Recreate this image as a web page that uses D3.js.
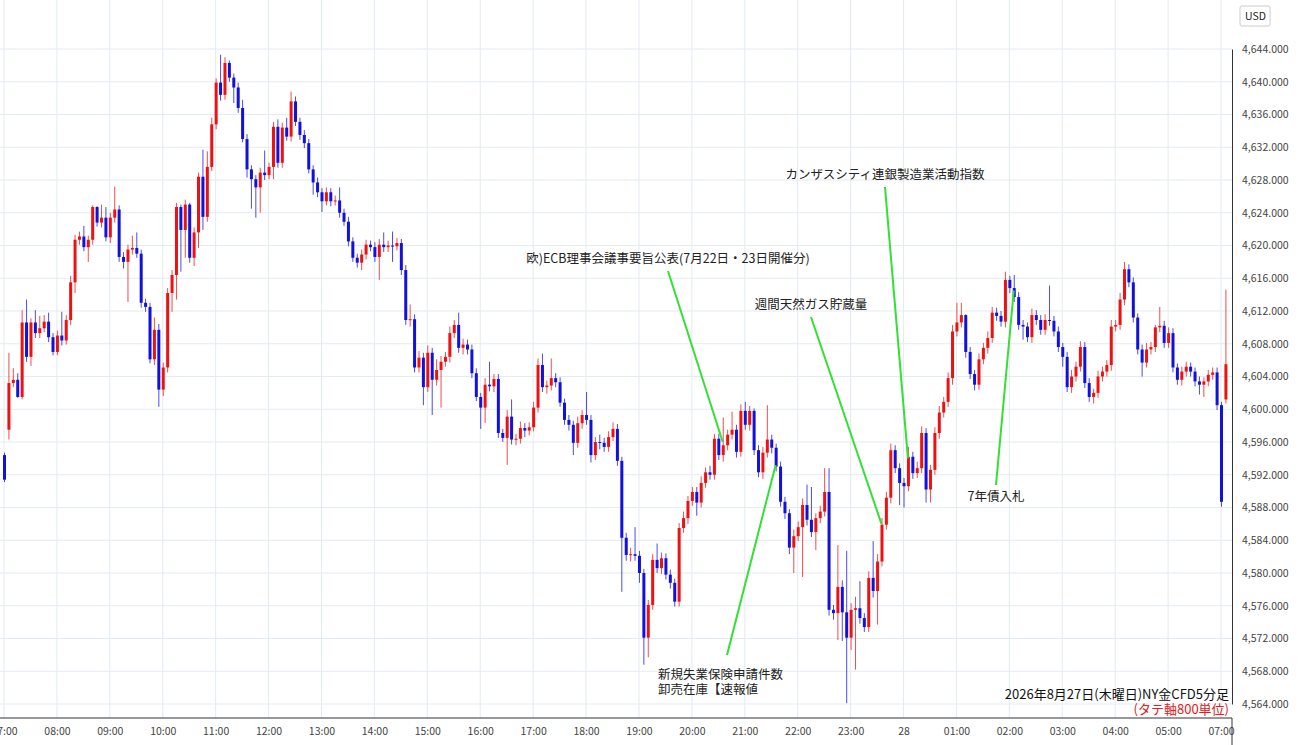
<!DOCTYPE html>
<html><head><meta charset="utf-8">
<script src="https://cdn.jsdelivr.net/npm/d3@7"></script>
<style>
body{margin:0;background:#fff;font-family:"Noto Sans CJK JP","Noto Sans",sans-serif;}
svg text{font-family:"Noto Sans CJK JP","Noto Sans",sans-serif;}
</style></head>
<body><svg id="chart" width="1300" height="745"></svg>
<script>
// closes of 5-minute candles, 07:00 .. 05:55, then 07:00, 07:05
const closes = [
4591.4,4603.2,4603.6,4601.5,4610.6,4606.4,4610.6,4609.3,4609.9,4610.7,
4608.8,4607.0,4609.0,4608.4,4610.9,4615.5,4620.7,4621.1,4619.8,4620.7,
4624.7,4622.8,4623.4,4621.0,4623.4,4624.4,4618.6,4618.0,4619.5,4619.7,
4619.0,4613.0,4612.5,4606.1,4609.7,4602.4,4605.1,4614.2,4616.4,4624.7,
4621.9,4625.0,4618.5,4621.6,4628.4,4623.5,4629.6,4634.8,4639.9,4638.4,
4642.3,4640.5,4639.3,4636.8,4633.0,4629.3,4628.1,4627.1,4628.9,4628.6,
4629.6,4634.5,4630.1,4634.4,4633.3,4637.6,4635.1,4633.5,4632.5,4629.3,
4627.7,4626.5,4625.4,4626.5,4625.4,4625.5,4624.0,4622.9,4620.5,4618.5,
4617.9,4618.9,4620.1,4619.8,4618.6,4620.1,4619.8,4620.0,4619.9,4620.3,
4617.0,4610.9,4611.0,4605.1,4606.3,4602.7,4606.9,4603.6,4604.8,4605.8,
4606.4,4609.3,4610.3,4607.5,4607.9,4607.3,4604.4,4601.5,4600.2,4603.0,
4602.8,4603.7,4597.1,4596.5,4599.1,4596.3,4596.4,4597.7,4597.4,4597.8,
4600.2,4605.4,4602.7,4602.9,4603.8,4603.3,4600.8,4598.7,4598.1,4595.9,
4598.3,4599.3,4598.7,4594.4,4596.0,4595.9,4595.4,4596.6,4597.6,4593.7,
4584.3,4582.2,4582.3,4582.1,4580.0,4572.1,4576.1,4581.6,4580.6,4581.8,
4579.8,4578.8,4576.5,4585.5,4586.7,4588.8,4589.9,4588.6,4591.0,4592.3,
4592.0,4596.4,4594.4,4595.6,4596.9,4597.5,4594.8,4599.8,4598.1,4599.8,
4595.0,4592.3,4594.7,4596.3,4595.3,4593.0,4588.7,4587.3,4583.1,4584.5,
4585.6,4588.3,4586.5,4585.0,4586.7,4587.5,4589.9,4575.5,4575.1,4578.3,
4575.2,4572.1,4575.5,4575.7,4574.5,4573.4,4579.4,4577.8,4581.4,4585.9,
4589.2,4595.0,4592.8,4591.0,4590.6,4594.2,4592.2,4592.8,4597.1,4590.2,
4592.6,4597.1,4599.6,4600.9,4603.8,4609.5,4610.6,4611.5,4607.0,4604.3,
4603.0,4606.1,4607.5,4608.7,4611.8,4611.4,4610.7,4615.8,4614.8,4613.7,
4610.3,4610.1,4608.8,4611.5,4610.9,4609.7,4610.9,4610.8,4609.5,4607.6,
4606.4,4602.7,4604.0,4605.2,4607.6,4603.2,4601.5,4602.0,4604.0,4604.6,
4605.4,4610.1,4610.3,4613.4,4617.1,4615.5,4611.2,4607.3,4605.7,4607.3,
4607.6,4610.0,4610.2,4608.1,4609.3,4605.1,4603.6,4604.6,4605.2,4604.6,
4603.4,4603.0,4603.4,4604.2,4604.5,4600.5,4588.7,4605.5
];
// opens differ from previous close only at gaps
const gapOpens = {0: 4594.4, 1: 4597.5, 277: 4601.2};
// wick lengths above / below the body
const upperWick = [
0.3,3.7,1.4,0.8,1.5,2.8,0.5,1.5,1.5,0.8, 1.1,0.5,0.6,2.9,0.6,0.8,0.6,0.6,1.3,0.5,
0.2,0.1,1.6,1.3,0.6,2.8,0.5,0.6,0.6,1.5, 1.9,0.5,0.5,0.5,1.5,0.7,0.6,0.6,0.6,0.5,
0.3,0.6,0.2,0.6,0.5,3.3,1.9,0.8,0.5,3.4, 0.7,0.3,0.5,0.6,1.0,0.6,0.5,0.5,0.6,2.7,
0.5,0.6,0.9,0.6,1.2,1.2,0.6,0.5,0.6,0.5, 0.5,0.6,0.5,0.6,0.5,0.6,1.6,0.5,0.6,0.5,
0.5,0.6,0.6,0.5,0.6,0.7,1.5,0.6,1.7,0.6, 0.5,0.6,1.8,0.6,0.8,0.6,0.9,0.6,1.3,0.7,
0.6,0.8,0.6,1.5,0.7,0.6,0.6,0.6,0.5,0.8, 2.8,0.6,0.6,0.5,0.8,2.1,0.6,0.8,0.6,0.6,
0.7,0.8,1.4,0.6,2.4,0.6,0.6,0.5,0.6,0.5, 0.8,0.6,2.8,0.6,0.6,0.9,0.6,0.7,0.8,0.6,
0.5,0.6,0.8,3.3,0.6,0.5,0.6,0.7,2.0,0.7, 0.6,0.6,0.5,0.6,0.8,0.6,0.6,0.6,0.8,0.6,
0.8,0.6,0.6,3.4,0.6,2.2,0.6,0.8,1.1,0.6, 0.3,0.6,0.7,4.2,0.6,0.5,0.6,0.6,0.5,0.8,
0.7,0.8,2.5,4.0,0.6,0.7,2.9,2.9,0.6,5.1, 0.8,7.5,0.8,1.4,3.3,0.6,0.8,4.5,0.9,0.8,
0.7,0.8,0.6,0.6,0.6,1.2,0.6,0.8,0.8,0.6, 0.6,0.7,0.8,0.6,0.7,0.8,2.4,1.5,0.1,0.6,
0.5,0.7,0.6,0.8,0.7,0.6,0.6,1.0,0.5,1.6, 0.6,0.6,0.5,0.8,0.6,0.6,0.7,4.2,0.6,0.6,
0.5,0.6,0.8,0.6,0.7,0.6,0.6,0.5,0.7,0.6, 0.6,0.8,0.6,0.8,0.9,0.6,0.6,0.5,0.6,0.8,
0.6,0.3,2.3,0.6,0.7,0.6,0.5,0.6,0.6,0.5, 0.5,0.6,0.5,0.6,0.6,0.6,0.4,9.1
];
const lowerWick = [
0.3,1.2,0.5,0.1,0.3,0.6,1.1,0.6,0.6,0.5, 0.6,0.4,0.4,0.6,0.5,0.6,1.3,0.6,0.5,1.8,
0.6,0.5,0.6,0.5,0.7,0.6,0.6,0.8,4.9,0.6, 0.5,0.6,0.6,0.5,0.7,2.1,0.8,0.6,2.3,3.0,
5.1,3.4,0.6,1.0,1.9,1.6,0.6,0.5,0.6,0.7, 0.6,0.5,1.9,0.6,0.4,1.0,3.6,3.7,3.1,0.6,
0.5,1.5,0.6,0.6,0.5,0.6,0.5,0.6,0.6,0.5, 1.5,0.6,1.3,0.5,0.6,0.5,0.6,0.5,0.6,0.5,
0.6,0.9,0.6,0.5,0.6,2.8,0.6,0.6,1.9,0.5, 0.6,0.6,0.8,0.6,0.6,2.2,0.6,4.3,0.7,4.6,
0.6,0.7,0.6,0.6,0.8,0.6,0.6,0.5,2.6,1.9, 0.6,0.7,0.6,0.5,3.3,0.6,0.7,0.6,0.8,0.6,
0.5,0.6,0.6,0.8,0.6,0.6,0.5,0.6,0.7,1.5, 0.6,0.7,0.6,0.9,0.6,0.8,0.6,0.6,0.5,0.6,
6.6,0.7,0.8,0.6,1.2,3.3,2.4,0.6,0.6,0.7, 0.6,0.7,0.6,0.6,0.6,0.7,0.6,1.6,0.6,0.6,
0.6,0.6,0.6,0.8,0.6,0.6,0.7,0.6,0.6,0.7, 0.6,0.6,0.8,0.6,0.7,0.6,0.6,0.7,0.8,3.1,
0.6,6.1,0.7,0.6,2.2,0.6,0.6,0.7,0.8,3.3, 3.5,8.0,1.5,7.3,0.7,0.6,0.6,0.8,4.1,0.6,
0.6,0.7,0.6,2.7,2.6,0.6,0.7,0.6,0.6,1.6, 1.6,0.6,0.7,0.6,0.6,0.8,0.6,0.6,0.7,0.6,
0.7,0.6,0.6,0.7,0.6,0.6,0.6,0.7,0.6,0.6, 0.6,1.6,0.6,0.7,0.6,0.6,0.6,0.6,0.6,0.6,
1.2,0.6,0.7,0.6,0.6,0.6,0.6,0.8,0.6,0.6, 0.6,0.7,0.6,0.6,0.7,0.6,0.6,0.6,1.7,0.6,
0.6,0.6,0.6,0.6,0.6,0.6,0.6,0.7,0.6,0.6, 0.6,1.2,1.5,0.6,0.6,0.6,0.6,0.5
];
const xTickIdx = [0,12,24,36,48,60,72,84,96,108,120,132,144,156,168,180,192,204,216,228,240,252,264,276];
const xTickLabels = ["07:00","08:00","09:00","10:00","11:00","12:00","13:00","14:00","15:00","16:00","17:00","18:00","19:00","20:00","21:00","22:00","23:00","28","01:00","02:00","03:00","04:00","05:00","07:00"];
const yTicks = d3.range(4564, 4645, 4);
const events = [
  {lines:["欧)ECB理事会議事要旨公表(7月22日・23日開催分)"], idx:163, price:4596.0, tx:668, ty:263, anchor:"middle"},
  {lines:["カンザスシティ連銀製造業活動指数"], idx:205, price:4594.0, tx:885, ty:179, anchor:"middle"},
  {lines:["週間天然ガス貯蔵量"], idx:199, price:4586.0, tx:811, ty:309, anchor:"middle"},
  {lines:["新規失業保険申請件数","卸売在庫【速報値"], idx:175, price:4593.2, tx:658, ty:679, anchor:"start", lx:727, ly:655},
  {lines:["7年債入札"], idx:229, price:4614.5, tx:996, ty:501, anchor:"middle"}
];

const candles = closes.map((c, i) => {
  const o = gapOpens[i] !== undefined ? gapOpens[i] : closes[i - 1];
  return {i, o, c, h: Math.max(o, c) + upperWick[i], l: Math.min(o, c) - lowerWick[i]};
});

const svg = d3.select('#chart');
const plotRight = 1232, plotBottom = 718;
const x = d3.scaleLinear().domain([0, 276]).range([4, 1221]);
const y = d3.scaleLinear().domain([4564, 4644]).range([704, 49]);

const grid = svg.append('g');
grid.selectAll('line.h').data(yTicks).join('line')
  .attr('x1', 0).attr('x2', plotRight).attr('y1', d => y(d)).attr('y2', d => y(d))
  .attr('stroke', '#e3ebf3');
grid.selectAll('line.v').data(xTickIdx).join('line')
  .attr('x1', d => x(d)).attr('x2', d => x(d)).attr('y1', 0).attr('y2', plotBottom)
  .attr('stroke', '#e3ebf3');

const up = '#ee1111', down = '#1111dd';
const g = svg.append('g');
g.selectAll('line.wick').data(candles).join('line')
  .attr('x1', d => x(d.i) + 0.5).attr('x2', d => x(d.i) + 0.5)
  .attr('y1', d => y(d.h)).attr('y2', d => y(d.l))
  .attr('stroke', d => d.c >= d.o ? up : down).attr('stroke-opacity', 0.75).attr('stroke-width', 1);
g.selectAll('rect').data(candles).join('rect')
  .attr('x', d => x(d.i) - 1).attr('width', 3)
  .attr('y', d => y(Math.max(d.o, d.c)))
  .attr('height', d => Math.max(1, Math.abs(y(d.o) - y(d.c))))
  .attr('fill', d => d.c >= d.o ? up : down);

// annotations
const ann = svg.append('g');
events.forEach(e => {
  const lx = e.lx !== undefined ? e.lx : e.tx;
  const ly = e.ly !== undefined ? e.ly : (e.ty < y(e.price) ? e.ty + 8 : e.ty - 16);
  ann.append('line').attr('x1', lx).attr('y1', ly).attr('x2', x(e.idx)).attr('y2', y(e.price))
    .attr('stroke', '#33e033').attr('stroke-width', 2);
  e.lines.forEach((t, k) => {
    ann.append('text').attr('x', e.tx).attr('y', e.ty + k * 15).attr('text-anchor', e.anchor)
      .attr('font-size', 12.5).attr('fill', '#222').text(t);
  });
});

svg.append('text').attr('x', 1229).attr('y', 699).attr('text-anchor', 'end')
  .attr('font-size', 13).attr('fill', '#111').text('2026年8月27日(木曜日)NY金CFD5分足');
svg.append('text').attr('x', 1229).attr('y', 714).attr('text-anchor', 'end')
  .attr('font-size', 13).attr('fill', '#e02020').text('(タテ軸800単位)');

// axes
svg.append('rect').attr('x', plotRight + 1).attr('y', 0).attr('width', 1300 - plotRight).attr('height', 745).attr('fill', '#fff');
svg.append('rect').attr('x', 0).attr('y', plotBottom).attr('width', 1300).attr('height', 30).attr('fill', '#fff');
const fmt = d3.format(',.3f');
const yAxis = svg.append('g').attr('transform', `translate(${plotRight},0)`)
  .call(d3.axisRight(y).tickValues(yTicks).tickFormat(fmt).tickSize(0).tickPadding(10));
yAxis.select('.domain').attr('stroke', '#333');
yAxis.selectAll('text').attr('font-size', 10.5).attr('fill', '#444');
const xAxis = svg.append('g').attr('transform', `translate(0,${plotBottom})`)
  .call(d3.axisBottom(x).tickValues(xTickIdx).tickFormat((d, k) => xTickLabels[k]).tickSize(0).tickPadding(10));
xAxis.select('.domain').attr('stroke', '#333').attr('d', `M0,0H${plotRight}`);
xAxis.selectAll('text').attr('font-size', 10.5).attr('fill', '#444');
svg.append('line').attr('x1', plotRight).attr('x2', plotRight).attr('y1', plotBottom).attr('y2', 745).attr('stroke', '#333');
svg.append('rect').attr('x', 1240).attr('y', 6).attr('width', 30).attr('height', 20).attr('fill', '#fff').attr('stroke', '#ccc').attr('rx', 2);
svg.append('text').attr('x', 1245).attr('y', 20).attr('font-size', 10.5).attr('fill', '#222').text('USD');
</script></body></html>
